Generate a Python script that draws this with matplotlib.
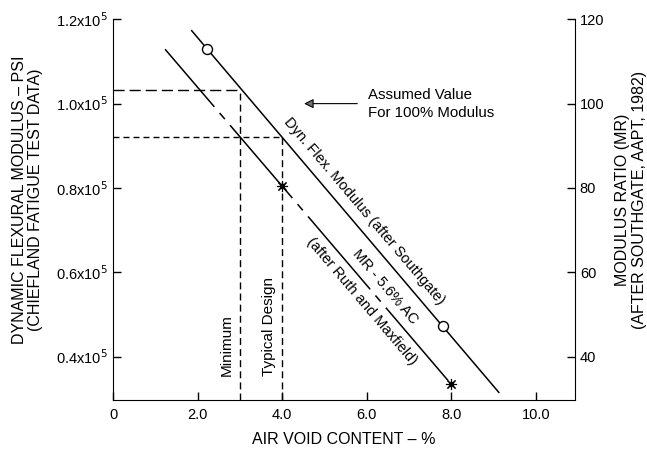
import numpy as np
import matplotlib
matplotlib.use("Agg")
import matplotlib.pyplot as plt

plt.rcParams['font.family'] = ['Liberation Sans Narrow', 'Liberation Sans', 'DejaVu Sans']
plt.rcParams['lines.scale_dashes'] = False

# data
# Dyn. Flex. Modulus (after Southgate): line ends and the two test points
void_flex = [1.86, 2.23, 7.79, 9.12]
modulus_flex = [1.173e5, 1.129e5, 0.472e5, 0.315e5]
# MR - 5.6% AC (after Ruth and Maxfield), right axis
void_mr = [1.23, 4.0, 7.98]
ratio_mr = [112.9, 80.4, 33.6]
# dashed guides: minimum / typical design air voids
guide_void = [3.0, 4.0]
guide_modulus = [1.033e5, 0.921e5]
guide_names = ["Minimum", "Typical Design"]
guide_dash = [(8, 3.6), (4.3, 2.9)]

x_ticks = [0, 2, 4, 6, 8, 10]
x_labels = ["0", "2.0", "4.0", "6.0", "8.0", "10.0"]
y_ticks = [0.4e5, 0.6e5, 0.8e5, 1.0e5, 1.2e5]
y_labels = [r"0.4x10$^5$", r"0.6x10$^5$", r"0.8x10$^5$", r"1.0x10$^5$", r"1.2x10$^5$"]
mr_ticks = [40, 60, 80, 100, 120]

fig = plt.figure(figsize=(6.47, 4.51), dpi=100)
ax = fig.add_axes([0.1747, 0.1131, 0.714, 0.8441])
ax2 = ax.twinx()

ymin, ymax = 0.297e5, 1.2e5
ax.set_xlim(0, 10.92)
ax.set_ylim(ymin, ymax)
ax2.set_ylim(ymin / 1000, ymax / 1000)

for a in (ax, ax2):
    a.spines['top'].set_visible(False)
    a.tick_params(direction='in', length=6, width=1, labelsize=10.5)
ax.spines['right'].set_visible(False)
ax2.spines['left'].set_visible(False)
ax2.spines['bottom'].set_visible(False)

ax.set_xticks(x_ticks)
ax.set_xticklabels(x_labels)
ax.set_yticks(y_ticks)
ax.set_yticklabels(y_labels)
ax2.set_yticks(mr_ticks)
ax.tick_params(axis='x', pad=6)

# main lines
ax.plot(void_flex, modulus_flex, color='k', lw=1.1, marker='o', markevery=[1, 2],
        ms=7.2, mfc='white', mec='k', mew=1.0)
ax2.plot(void_mr, ratio_mr, color='k', lw=1.1, linestyle=(14.4, (69, 5.8, 5.8, 5.8)))
ax2.plot(void_mr[1:], ratio_mr[1:], linestyle='none', marker=(8, 2, 0), ms=8, color='k', mew=0.8)
ax2.plot(void_mr[1:], ratio_mr[1:], linestyle='none', marker='o', ms=3, color='k')

# dashed guides
for gx, gy, name, dash in zip(guide_void, guide_modulus, guide_names, guide_dash):
    ax.plot([0, gx], [gy, gy], color='k', lw=1.0, linestyle=(0, dash))
    ax.plot([gx, gx], [ymin, gy], color='k', lw=1.0, linestyle=(0, (5, 3)))
    ax.text(gx - 0.31, 0.353e5, name, rotation=90, ha='center', va='bottom', fontsize=11)

# angle of the lines on screen
fig.canvas.draw()
p = ax.transData.transform([(void_flex[0], modulus_flex[0]), (void_flex[-1], modulus_flex[-1])])
ang = np.degrees(np.arctan2(p[1, 1] - p[0, 1], p[1, 0] - p[0, 0]))

ax.text(5.93, 0.746e5, "Dyn. Flex. Modulus (after Southgate)", rotation=ang,
        rotation_mode='anchor', ha='center', va='center', fontsize=10.5)
ax.text(6.43, 0.566e5, "MR - 5.6% AC", rotation=ang,
        rotation_mode='anchor', ha='center', va='center', fontsize=10.5)
ax.text(5.89, 0.532e5, "(after Ruth and Maxfield)", rotation=ang,
        rotation_mode='anchor', ha='center', va='center', fontsize=10.5)

# assumed value arrow
ax.annotate("", xy=(4.45, 1.0e5), xytext=(5.84, 1.0e5),
            arrowprops=dict(arrowstyle='-|>', color='k', lw=0.8, fc='0.45', mutation_scale=14))
ax.text(6.03, 1.0e5, "Assumed Value\nFor 100% Modulus", ha='left', va='center',
        fontsize=10.8, linespacing=1.35)

ax.set_xlabel("AIR VOID CONTENT – %", fontsize=11.5, labelpad=7)
fig.text(0.0425, 0.557, "DYNAMIC FLEXURAL MODULUS – PSI\n(CHIEFLAND FATIGUE TEST DATA)",
         rotation=90, ha='center', va='center', fontsize=11.5, linespacing=1.15)
fig.text(0.975, 0.557, "MODULUS RATIO (MR)\n(AFTER SOUTHGATE, AAPT, 1982)",
         rotation=90, ha='center', va='center', fontsize=11.5, linespacing=1.15)

fig.savefig("out.png", dpi=100)
